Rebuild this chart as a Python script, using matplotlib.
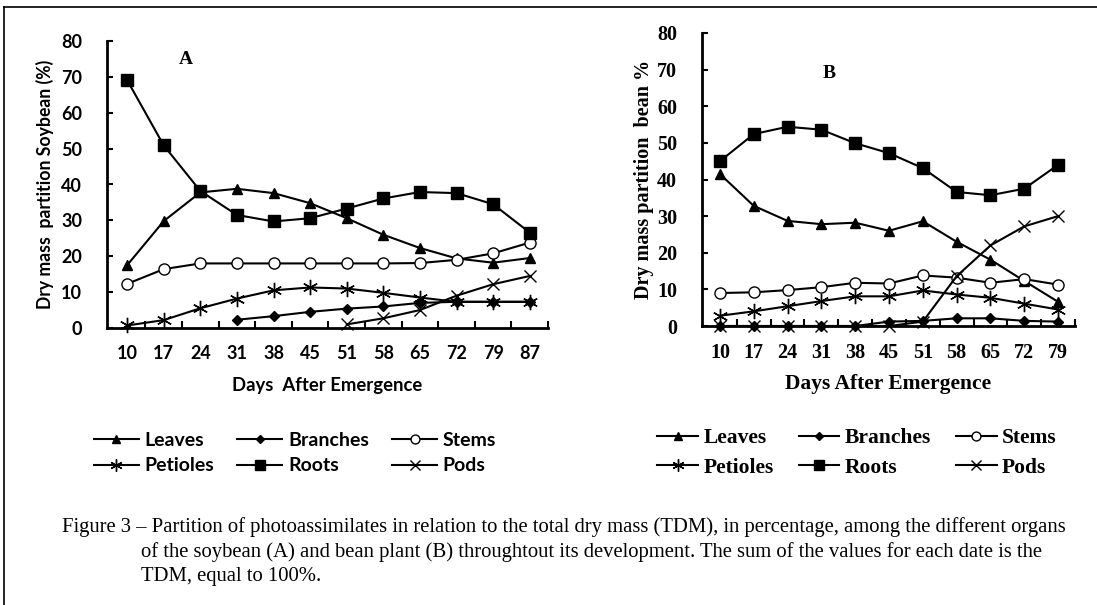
import matplotlib
matplotlib.use("Agg")
import matplotlib.pyplot as plt
from matplotlib.lines import Line2D
from matplotlib.font_manager import FontProperties
import numpy as np

# days after emergence
days_a = [10, 17, 24, 31, 38, 45, 51, 58, 65, 72, 79, 87]
days_b = [10, 17, 24, 31, 38, 45, 51, 58, 65, 72, 79]

# soybean (A), None = no value
leaves_a = [17.5, 29.8, 37.8, 38.8, 37.6, 34.8, 30.6, 26.0, 22.3, 19.4, 18.2, 19.5]
branches_a = [None, None, None, 2.3, 3.3, 4.5, 5.4, 6.0, 7.0, 7.3, 7.3, 7.3]
stems_a = [12.3, 16.4, 18.0, 18.0, 18.0, 18.0, 18.0, 18.0, 18.1, 19.0, 20.8, 23.8]
petioles_a = [0.7, 2.2, 5.5, 8.2, 10.5, 11.3, 11.0, 9.8, 8.5, 7.3, 7.3, 7.3]
roots_a = [69.1, 50.9, 38.2, 31.5, 29.7, 30.6, 33.3, 36.1, 37.9, 37.6, 34.5, 26.6]
pods_a = [None, None, None, None, None, None, 1.0, 2.7, 5.0, 9.0, 12.2, 14.5]

# bean (B)
leaves_b = [41.5, 32.8, 28.7, 27.8, 28.2, 26.0, 28.6, 23.0, 18.1, 12.3, 6.6]
branches_b = [0, 0, 0, 0, 0, 1.2, 1.4, 2.1, 2.1, 1.4, 1.2]
stems_b = [9.0, 9.2, 9.8, 10.6, 11.8, 11.6, 13.8, 13.2, 11.8, 12.8, 11.3]
petioles_b = [2.8, 4.0, 5.4, 6.8, 8.1, 8.1, 9.7, 8.6, 7.7, 6.1, 4.5]
roots_b = [45.0, 52.4, 54.4, 53.6, 49.9, 47.2, 43.1, 36.6, 35.7, 37.5, 44.0]
pods_b = [0, 0, 0, 0, 0, 0, 1.2, 13.6, 22.0, 27.2, 30.0]

names = ["Leaves", "Branches", "Stems", "Petioles", "Roots", "Pods"]
asterisk = (6, 2, 0)
styles = {
    "Leaves": dict(marker="^", ms=7, mfc="black"),
    "Branches": dict(marker="D", ms=5, mfc="black"),
    "Stems": dict(marker="o", ms=8, mfc="white", mew=1.0),
    "Petioles": dict(marker=asterisk, ms=11, mew=1.0),
    "Roots": dict(marker="s", ms=9, mfc="black"),
    "Pods": dict(marker="x", ms=9, mew=1.0),
}

fig = plt.figure(figsize=(10.97, 6.05), dpi=100)
W, H = 1097, 605


def ax_box(left, right, top, bottom):
    return [left / W, 1 - bottom / H, (right - left) / W, (bottom - top) / H]


def to_arr(v):
    return np.array([np.nan if x is None else x for x in v], dtype=float)


def draw_panel(ax, days, series, xlim, tickfont, letter, letter_xy, ylabel, xlabel,
               labfont, xlabfont, xpad):
    x = np.arange(len(days))
    for n in names:
        ax.plot(x, to_arr(series[n]), color="black", lw=1.5, mec="black",
                clip_on=False, zorder=3, **styles[n])
    ax.set_xlim(*xlim)
    ax.set_ylim(0, 80)
    ax.set_yticks(range(0, 81, 10))
    ax.set_xticks(x)
    ax.set_xticklabels([str(d) for d in days])
    ax.set_xticks(np.arange(len(days)) + 0.5, minor=True)
    ax.tick_params(axis="x", which="major", length=0, pad=12)
    ax.tick_params(axis="x", which="minor", direction="in", length=5, width=1.5)
    ax.tick_params(axis="y", direction="in", length=4, width=1.5, pad=18)
    for s in ["top", "right"]:
        ax.spines[s].set_visible(False)
    for s in ["left", "bottom"]:
        ax.spines[s].set_linewidth(2)
    for lab in ax.get_xticklabels() + ax.get_yticklabels():
        lab.set_fontproperties(tickfont)
    ax.set_ylabel(ylabel, fontproperties=labfont)
    ax.set_xlabel(xlabel, fontproperties=xlabfont, labelpad=xpad)
    ax.text(letter_xy[0], letter_xy[1], letter, transform=fig.transFigure,
            family="Liberation Serif", weight="bold", fontsize=14, ha="center", va="center")


sans_tick = FontProperties(family="Lato", weight="bold", size=13)
sans_ylab = FontProperties(family="Lato", weight="bold", size=12.7)
sans_xlab = FontProperties(family="Lato", weight="bold", size=13.3)
sans_leg = FontProperties(family="Lato", weight="bold", size=14)
serif_tick = FontProperties(family="Liberation Serif", weight="bold", size=14.5)
serif_ylab = FontProperties(family="Liberation Serif", weight="bold", size=14.5)
serif_xlab = FontProperties(family="Liberation Serif", weight="bold", size=15.5)
serif_leg = FontProperties(family="Liberation Serif", weight="bold", size=15.5)

axA = fig.add_axes(ax_box(107, 548, 41, 328))
draw_panel(axA, days_a,
           {"Leaves": leaves_a, "Branches": branches_a, "Stems": stems_a,
            "Petioles": petioles_a, "Roots": roots_a, "Pods": pods_a},
           (-0.55, 11.46), sans_tick, "A", (186 / W, 1 - 60 / H),
           "Dry mass  partition Soybean (%)", "Days  After Emergence",
           sans_ylab, sans_xlab, 11)
axA.yaxis.set_label_coords(-0.12, 0.5)

axB = fig.add_axes(ax_box(702, 1075, 33, 326))
draw_panel(axB, days_b,
           {"Leaves": leaves_b, "Branches": branches_b, "Stems": stems_b,
            "Petioles": petioles_b, "Roots": roots_b, "Pods": pods_b},
           (-0.53, 10.46), serif_tick, "B", (829 / W, 1 - 74 / H),
           "Dry mass partition  bean %", "Days After Emergence",
           serif_ylab, serif_xlab, 8)
axB.yaxis.set_label_coords(-0.128, 0.5)

# legends, row-wise order via column-major filling
order = ["Leaves", "Petioles", "Branches", "Roots", "Stems", "Pods"]


def leg_handle(n):
    st = dict(styles[n])
    st["ms"] = st["ms"] * 0.8
    return Line2D([], [], color="black", lw=1.5, mec="black", **st)


fig.legend([leg_handle(n) for n in order], order, ncol=3,
           loc="center", bbox_to_anchor=(295 / W, 1 - 453 / H),
           frameon=False, handlelength=2.3, columnspacing=1.2,
           handletextpad=0.3, labelspacing=0.45, prop=sans_leg)
fig.legend([leg_handle(n) for n in order], order, ncol=3,
           loc="center", bbox_to_anchor=(857 / W, 1 - 453 / H),
           frameon=False, handlelength=1.9, columnspacing=1.15,
           handletextpad=0.25, labelspacing=0.45, prop=serif_leg)

# caption
cap = dict(family="Liberation Serif", fontsize=14.85, va="center", ha="left")
fig.text(62 / W, 1 - 527 / H,
         "Figure 3 \u2013 Partition of photoassimilates in relation to the total dry mass (TDM), in percentage, among the different organs",
         **cap)
fig.text(141 / W, 1 - 552 / H,
         "of the soybean (A) and bean plant (B) throughtout its development. The sum of the values for each date is the",
         **cap)
fig.text(141 / W, 1 - 577 / H, "TDM, equal to 100%.", **cap)

# frame lines (left and top only)
fig.add_artist(Line2D([3.5 / W, 3.5 / W], [0, 1 - 6.5 / H], color="black", lw=1.2,
                      transform=fig.transFigure))
fig.add_artist(Line2D([3.5 / W, 1], [1 - 6.5 / H, 1 - 6.5 / H], color="black", lw=1.2,
                      transform=fig.transFigure))

fig.savefig("out.png", dpi=100)
